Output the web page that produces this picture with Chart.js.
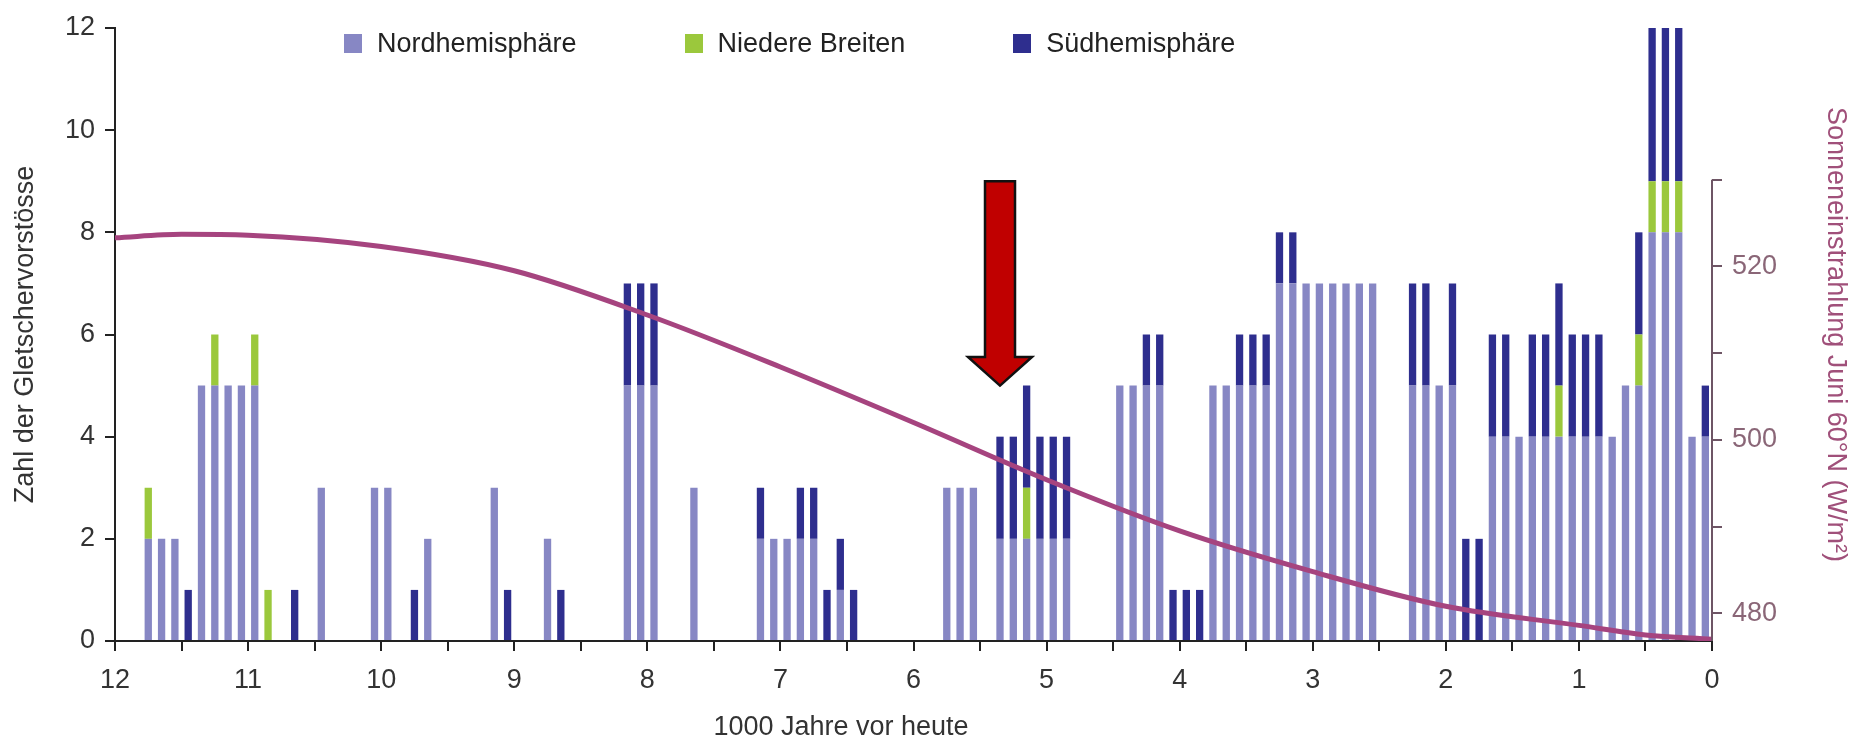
<!DOCTYPE html>
<html>
<head>
<meta charset="utf-8">
<script src="https://cdn.jsdelivr.net/npm/chart.js"></script>
<style>
  body { margin: 0; background: #fff; }
  #wrap { position: relative; width: 1862px; height: 749px; }
  #legend {
    position: absolute; top: 28px; left: 344px;
    display: flex; gap: 108px;
    font: 27px "Liberation Sans", Arial, sans-serif; color: #222;
  }
  #legend .item { display: flex; align-items: center; }
  #legend .swatch { width: 18px; height: 19px; margin-right: 15px; }
  #xTitle {
    position: absolute; top: 711px; left: 641px; width: 400px;
    text-align: center; line-height: 32px;
    font: 27px "Liberation Sans", Arial, sans-serif; color: #333;
  }
</style>
</head>
<body>
<div id="wrap">
  <canvas id="glacierChart" width="1862" height="749"></canvas>
  <div id="legend"></div>
  <div id="xTitle">1000 Jahre vor heute</div>
</div>
<script>
// 100-year bins, centre in 1000 years before today
var binCenters = [
  11.75, 11.65, 11.55, 11.45, 11.35, 11.25, 11.15, 11.05, 10.95, 10.85,
  10.65, 10.45,
  10.05, 9.95, 9.75, 9.65,
  9.15, 9.05, 8.75, 8.65,
  8.15, 8.05, 7.95, 7.65,
  7.15, 7.05, 6.95, 6.85, 6.75, 6.65, 6.55, 6.45,
  5.75, 5.65, 5.55,
  5.35, 5.25, 5.15, 5.05, 4.95, 4.85,
  4.45, 4.35, 4.25, 4.15, 4.05, 3.95, 3.85,
  3.75, 3.65, 3.55, 3.45, 3.35, 3.25, 3.15, 3.05, 2.95, 2.85, 2.75, 2.65, 2.55,
  2.25, 2.15, 2.05, 1.95,
  1.85, 1.75, 1.65, 1.55, 1.45, 1.35, 1.25, 1.15, 1.05, 0.95, 0.85, 0.75,
  0.65, 0.55, 0.45, 0.35, 0.25, 0.15, 0.05
];
var nordhemisphaere = [
  2, 2, 2, 0, 5, 5, 5, 5, 5, 0,
  0, 3,
  3, 3, 0, 2,
  3, 0, 2, 0,
  5, 5, 5, 3,
  2, 2, 2, 2, 2, 0, 1, 0,
  3, 3, 3,
  2, 2, 2, 2, 2, 2,
  5, 5, 5, 5, 0, 0, 0,
  5, 5, 5, 5, 5, 7, 7, 7, 7, 7, 7, 7, 7,
  5, 5, 5, 5,
  0, 0, 4, 4, 4, 4, 4, 4, 4, 4, 4, 4,
  5, 5, 8, 8, 8, 4, 4
];
var niedereBreiten = [
  1, 0, 0, 0, 0, 1, 0, 0, 1, 1,
  0, 0,
  0, 0, 0, 0,
  0, 0, 0, 0,
  0, 0, 0, 0,
  0, 0, 0, 0, 0, 0, 0, 0,
  0, 0, 0,
  0, 0, 1, 0, 0, 0,
  0, 0, 0, 0, 0, 0, 0,
  0, 0, 0, 0, 0, 0, 0, 0, 0, 0, 0, 0, 0,
  0, 0, 0, 0,
  0, 0, 0, 0, 0, 0, 0, 1, 0, 0, 0, 0,
  0, 1, 1, 1, 1, 0, 0
];
var suedhemisphaere = [
  0, 0, 0, 1, 0, 0, 0, 0, 0, 0,
  1, 0,
  0, 0, 1, 0,
  0, 1, 0, 1,
  2, 2, 2, 0,
  1, 0, 0, 1, 1, 1, 1, 1,
  0, 0, 0,
  2, 2, 2, 2, 2, 2,
  0, 0, 1, 1, 1, 1, 1,
  0, 0, 1, 1, 1, 1, 1, 0, 0, 0, 0, 0, 0,
  2, 2, 0, 2,
  2, 2, 2, 2, 0, 2, 2, 2, 2, 2, 2, 0,
  0, 2, 3, 3, 3, 0, 1
];

// June insolation at 60°N (W/m2)
var insolationAge = [12, 11.5, 11, 10, 9, 8, 7, 6, 5, 4, 3, 2, 1, 0.5, 0];
var insolationJune60N = [523.3, 523.7, 523.6, 522.3, 519.5, 514.4, 508.4, 502.0, 495.4, 489.5, 484.8, 480.8, 478.6, 477.5, 477.0];

var insolationTicks = [480, 490, 500, 510, 520, 530];
var insolationLabels = [480, 500, 520];

// red arrow (age, counts)
var arrowAge = 5.35, arrowTop = 9.0, arrowHeadBase = 5.56, arrowTip = 5.0;

var font = { family: "'Liberation Sans', Arial, sans-serif", size: 27 };

function toPoints(xs, ys) {
  return xs.map(function (x, i) { return { x: x, y: ys[i] }; });
}

var partialAxis = {
  id: 'partialAxis',
  afterDatasetsDraw: function (chart) {
    var ctx = chart.ctx, y2 = chart.scales.y2, area = chart.chartArea;
    ctx.save();
    ctx.strokeStyle = '#6e5565';
    ctx.lineWidth = 2;
    ctx.beginPath();
    ctx.moveTo(area.right, area.bottom);
    ctx.lineTo(area.right, y2.getPixelForValue(insolationTicks[insolationTicks.length - 1]));
    ctx.stroke();
    ctx.restore();
  }
};

var redArrow = {
  id: 'redArrow',
  afterDraw: function (chart) {
    var ctx = chart.ctx, x = chart.scales.x, y = chart.scales.y;
    var cx = x.getPixelForValue(arrowAge);
    var top = y.getPixelForValue(arrowTop);
    var base = y.getPixelForValue(arrowHeadBase);
    var tip = y.getPixelForValue(arrowTip);
    ctx.save();
    ctx.fillStyle = '#c00000';
    ctx.strokeStyle = '#111';
    ctx.lineWidth = 2.5;
    ctx.beginPath();
    ctx.moveTo(cx - 15, top);
    ctx.lineTo(cx + 15, top);
    ctx.lineTo(cx + 15, base);
    ctx.lineTo(cx + 32, base);
    ctx.lineTo(cx, tip);
    ctx.lineTo(cx - 32, base);
    ctx.lineTo(cx - 15, base);
    ctx.closePath();
    ctx.fill();
    ctx.stroke();
    ctx.restore();
  }
};

var barOpts = { order: 1, borderWidth: 0, barPercentage: 0.55, categoryPercentage: 1, stack: 'vorstoesse' };

var config = {
  type: 'bar',
  data: {
    datasets: [
      {
        type: 'line',
        label: 'Sonneneinstrahlung',
        data: toPoints(insolationAge, insolationJune60N),
        yAxisID: 'y2',
        borderColor: '#a6447f',
        borderWidth: 5,
        pointRadius: 0,
        cubicInterpolationMode: 'monotone',
        order: 0
      },
      Object.assign({ label: 'Nordhemisphäre', data: toPoints(binCenters, nordhemisphaere), backgroundColor: '#8787c4' }, barOpts),
      Object.assign({ label: 'Niedere Breiten', data: toPoints(binCenters, niedereBreiten), backgroundColor: '#9bc83c' }, barOpts),
      Object.assign({ label: 'Südhemisphäre', data: toPoints(binCenters, suedhemisphaere), backgroundColor: '#2e2e8e' }, barOpts)
    ]
  },
  options: {
    responsive: false,
    animation: false,
    layout: { padding: { top: 28, left: 0, right: 0, bottom: 0 } },
    plugins: { legend: { display: false }, tooltip: { enabled: false } },
    scales: {
      x: {
        type: 'linear',
        reverse: true,
        min: 0,
        max: 12,
        offset: false,
        stacked: true,
        grid: { drawOnChartArea: false, offset: false, tickLength: 10, color: '#222', lineWidth: 2 },
        border: { color: '#222', width: 2 },
        ticks: {
          stepSize: 0.5, autoSkip: false, maxRotation: 0, padding: 13, color: '#333', font: font,
          callback: function (v) { return Number.isInteger(v) ? v : ''; }
        },
        afterFit: function (s) { s.height = 108; }
      },
      y: {
        position: 'left',
        stacked: true,
        min: 0,
        max: 12,
        grid: { drawOnChartArea: false, tickLength: 10, color: '#222', lineWidth: 2 },
        border: { color: '#222', width: 2 },
        ticks: { stepSize: 2, padding: 10, color: '#333', font: font },
        title: { display: true, text: 'Zahl der Gletschervorstösse', color: '#333', font: font, padding: { top: 9 } },
        afterFit: function (s) { s.width = 115; }
      },
      y2: {
        position: 'right',
        min: 476.8,
        max: 547.5,
        afterBuildTicks: function (s) {
          s.ticks = insolationTicks.map(function (v) { return { value: v }; });
        },
        grid: { drawOnChartArea: false, tickLength: 10, color: '#6e5565', lineWidth: 2 },
        border: { display: false },
        ticks: {
          padding: 10, color: '#8a6677', font: font,
          callback: function (v) { return insolationLabels.indexOf(v) >= 0 ? v : ''; }
        },
        title: { display: true, text: 'Sonneneinstrahlung Juni 60°N (W/m²)', color: '#a0507a', font: font, padding: { top: 10 } },
        afterFit: function (s) { s.width = 150; }
      }
    }
  },
  plugins: [partialAxis, redArrow]
};

var ctx = document.getElementById('glacierChart').getContext('2d');
var chart = new Chart(ctx, config);

// legend as html, built from the bar datasets
var legend = document.getElementById('legend');
chart.data.datasets.forEach(function (ds) {
  if (ds.type === 'line') return;
  var item = document.createElement('div');
  item.className = 'item';
  var sw = document.createElement('span');
  sw.className = 'swatch';
  sw.style.background = ds.backgroundColor;
  item.appendChild(sw);
  item.appendChild(document.createTextNode(ds.label));
  legend.appendChild(item);
});
</script>
</body>
</html>
